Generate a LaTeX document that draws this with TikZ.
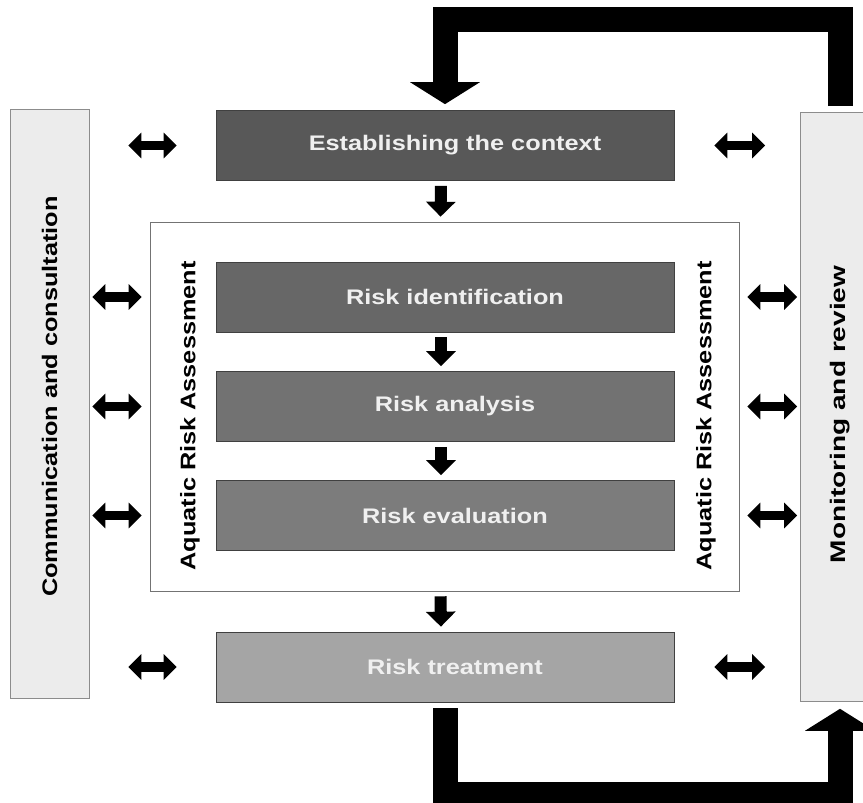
\documentclass[tikz,border=0pt]{standalone}
\usepackage{fontspec}
\setmainfont{Liberation Sans}[FakeStretch=1.2]
\newfontfamily\widefont{Liberation Sans}[FakeStretch=1.33]
\usepackage{tikz}
\usetikzlibrary{arrows.meta}

\definecolor{ctxgray}{HTML}{585858}
\definecolor{idgray}{HTML}{676767}
\definecolor{angray}{HTML}{727272}
\definecolor{evgray}{HTML}{7C7C7C}
\definecolor{trgray}{HTML}{A5A5A5}
\definecolor{sidegray}{HTML}{ECECEC}

\begin{document}
\begin{tikzpicture}[x=0.02cm,y=-0.02cm,
    stage/.style={draw=black!75,minimum width=9.16cm,minimum height=1.4cm,
      text=white!94!black,font=\fontsize{12}{14}\selectfont\bfseries,
      execute at begin node=\hspace*{0.4cm}},
    side/.style={draw=black!45,fill=sidegray,rotate=90,minimum width=11.78cm,
      minimum height=1.58cm,font=\fontsize{12}{14}\selectfont\bfseries},
    twoway/.style={line width=0.19cm,
      {Triangle[width=0.5cm,length=0.26cm]}-{Triangle[width=0.5cm,length=0.26cm]}},
    down/.style={line width=0.24cm,-{Triangle[width=0.58cm,length=0.3cm]},
      shorten <=0.1cm,shorten >=0.1cm},
    feedback/.style={line width=0.5cm,line join=miter,
      -{Triangle[width=1.38cm,length=0.44cm]}}
    ]
  \useasboundingbox (0,0) rectangle (863,803);
  \clip (0,0) rectangle (863,803);

  % side bars and the assessment frame
  \node[side] (comm) at (49.5,404) {\hspace*{0.3cm}Communication and consultation};
  \node[side] (mon)  at (840,407) {\widefont\bfseries Monitoring and review\hspace*{0.3cm}};
  \node[draw=black!55,fill=white,minimum width=11.78cm,minimum height=7.38cm]
    (ara) at (444.5,406.5) {};
  \node[rotate=90,font=\fontsize{12}{14}\selectfont\bfseries] (aral) at (190,416) {Aquatic Risk Assessment};
  \node[rotate=90,font=\fontsize{12}{14}\selectfont\bfseries] (arar) at (706,416) {Aquatic Risk Assessment};

  % process steps
  \node[stage,fill=ctxgray] (ctx)   at (445,145.5) {Establishing the context};
  \node[stage,fill=idgray]  (ident) at (445,297)   {Risk identification};
  \node[stage,fill=angray]  (anal)  at (445,406.5) {Risk analysis};
  \node[stage,fill=evgray]  (eval)  at (445,515.5) {Risk evaluation};
  \node[stage,fill=trgray]  (treat) at (445,667)   {Risk treatment};

  \draw[down] ([xshift=-0.08cm]ctx.south)   -- ([xshift=-0.08cm]ara.north);
  \draw[down] ([xshift=-0.08cm]ident.south) -- ([xshift=-0.08cm]anal.north);
  \draw[down] ([xshift=-0.08cm]anal.south)  -- ([xshift=-0.08cm]eval.north);
  \draw[down] ([xshift=-0.08cm]ara.south)   -- ([xshift=-0.08cm]treat.north);

  % two-way links to the side bars
  \draw[twoway,shorten <=0.78cm,shorten >=0.78cm] (comm.south |- ctx) -- (ctx.west);
  \draw[twoway,shorten <=0.8cm,shorten >=0.7cm] (ctx.east) -- (mon.north |- ctx);
  \draw[twoway,shorten <=0.78cm,shorten >=0.78cm] (comm.south |- treat) -- (treat.west);
  \draw[twoway,shorten <=0.8cm,shorten >=0.7cm] (treat.east) -- (mon.north |- treat);
  \foreach \s in {ident,anal,eval} {
    \draw[twoway,shorten <=0.06cm,shorten >=0.16cm] (comm.south |- \s) -- (ara.west |- \s);
    \draw[twoway,shorten <=0.16cm,shorten >=0.06cm] (ara.east |- \s) -- (mon.north |- \s);
  }

  % feedback loops
  \draw[feedback,shorten <=0.12cm,shorten >=0.12cm] (mon.east) -- ++(0,-93) -| (ctx.north);
  \draw[feedback,shorten <=0.12cm,shorten >=0.14cm] (treat.south) -- ++(0,92) -| (mon.west);
\end{tikzpicture}
\end{document}
